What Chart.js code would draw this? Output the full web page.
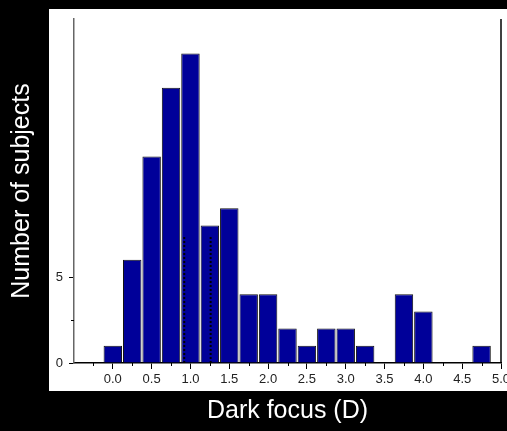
<!DOCTYPE html>
<html>
<head>
<meta charset="utf-8">
<script src="https://cdn.jsdelivr.net/npm/chart.js@4/dist/chart.umd.min.js"></script>
<style>
  html, body { margin: 0; padding: 0; background: #000; }
  #wrap { width: 507px; height: 431px; }
</style>
</head>
<body>
<div id="wrap"><canvas id="hist"></canvas></div>
<script>
// histogram bins (D) and counts
var binCenters = [0, 0.25, 0.5, 0.75, 1.0, 1.25, 1.5, 1.75, 2.0, 2.25, 2.5, 2.75, 3.0, 3.25, 3.5, 3.75, 4.0, 4.25, 4.5, 4.75];
var counts     = [1, 6, 12, 16, 18, 8, 9, 4, 4, 2, 1, 2, 2, 1, 0, 4, 3, 0, 0, 1];

// dotted reference lines (x position, height)
var markerX      = [0.92, 1.26];
var markerHeight = [7.4, 7.4];

// ticks
var xMajorTicks = [0, 0.5, 1.0, 1.5, 2.0, 2.5, 3.0, 3.5, 4.0, 4.5, 5.0];
var xMinorTicks = [-0.25, 0.25, 0.75, 1.25, 1.75, 2.25, 2.75, 3.25, 3.75, 4.25, 4.75];
var yMajorTicks = [0, 5];
var yMinorTicks = [2.5];

var tickFont = { family: "'Liberation Sans', Arial, sans-serif", size: 13 };
var titleFont = { family: "'Liberation Sans', Arial, sans-serif", size: 25 };

var barData = binCenters.map(function (x, i) { return { x: x, y: counts[i] }; });

var datasets = [{
  type: 'bar',
  data: barData,
  backgroundColor: '#000099',
  borderColor: '#111',
  borderWidth: 1,
  borderSkipped: 'bottom',
  barPercentage: 0.95,
  categoryPercentage: 1,
  order: 5
}];
markerX.forEach(function (x, i) {
  datasets.push({
    type: 'line',
    data: [{ x: x, y: 0 }, { x: x, y: markerHeight[i] }],
    borderColor: '#000',
    borderWidth: 2,
    borderDash: [2, 2],
    pointRadius: 0,
    fill: false,
    order: 0
  });
});

var panel = {
  id: 'panel',
  beforeDraw: function (chart) {
    var c = chart.ctx, a = chart.chartArea;
    c.save();
    c.fillStyle = '#000';
    c.fillRect(0, 0, chart.width, chart.height);
    c.fillStyle = '#fff';
    c.fillRect(a.left - 25, a.top - 10, chart.width - (a.left - 25), a.bottom - a.top + 38);
    c.restore();
  },
  afterDraw: function (chart) {
    var c = chart.ctx, a = chart.chartArea;
    var xs = chart.scales.x, ys = chart.scales.y;
    c.save();
    c.strokeStyle = '#000';
    c.lineWidth = 1;
    xMinorTicks.forEach(function (v) {
      var px = Math.round(xs.getPixelForValue(v)) + 0.5;
      c.beginPath(); c.moveTo(px, a.bottom); c.lineTo(px, a.bottom + 3); c.stroke();
    });
    yMinorTicks.forEach(function (v) {
      var py = Math.round(ys.getPixelForValue(v)) + 0.5;
      c.beginPath(); c.moveTo(a.left - 3, py); c.lineTo(a.left, py); c.stroke();
    });
    // right axis line
    c.lineWidth = 1.5;
    var rx = xs.getPixelForValue(5);
    c.beginPath(); c.moveTo(rx, a.top); c.lineTo(rx, a.bottom); c.stroke();
    c.restore();
  }
};

new Chart(document.getElementById('hist'), {
  type: 'bar',
  data: { datasets: datasets },
  options: {
    responsive: true,
    maintainAspectRatio: false,
    animation: false,
    layout: { padding: { top: 19, right: 6, left: 0, bottom: 0 } },
    plugins: { legend: { display: false }, tooltip: { enabled: false } },
    scales: {
      x: {
        type: 'linear',
        min: -0.5,
        max: 5,
        offset: false,
        afterBuildTicks: function (s) { s.ticks = xMajorTicks.map(function (v) { return { value: v }; }); },
        afterFit: function (s) { s.height = 68; s.paddingLeft = 0; s.paddingRight = 0; },
        ticks: {
          font: tickFont, color: '#222', padding: 3, maxRotation: 0, autoSkip: false,
          callback: function (v) { return v.toFixed(1); }
        },
        grid: { drawOnChartArea: false, offset: false, tickLength: 6, color: '#000' },
        border: { color: '#000', width: 1.5 },
        title: { display: true, text: 'Dark focus (D)', color: '#fff', font: titleFont, padding: { top: 0, bottom: 5 } }
      },
      y: {
        min: 0,
        max: 20,
        afterBuildTicks: function (s) { s.ticks = yMajorTicks.map(function (v) { return { value: v }; }); },
        afterFit: function (s) { s.width = 74; s.paddingTop = 0; s.paddingBottom = 0; },
        ticks: { font: tickFont, color: '#222', padding: 6 },
        grid: { drawOnChartArea: false, tickLength: 5, color: '#000' },
        border: { color: '#666', width: 1.5 },
        title: { display: true, text: 'Number of subjects', color: '#fff', font: titleFont, padding: { top: 7, bottom: 0 } }
      }
    }
  },
  plugins: [panel]
});
</script>
</body>
</html>
